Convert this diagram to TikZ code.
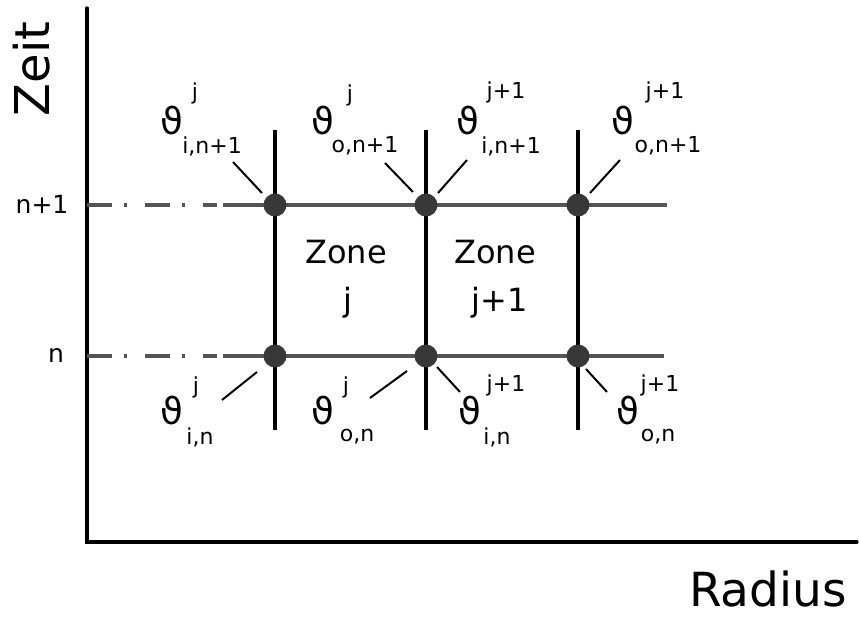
\documentclass[tikz,border=0pt]{standalone}
\usepackage{fontspec}
\setmainfont{DejaVu Sans}
\definecolor{rowline}{gray}{0.33}
\definecolor{nodefill}{gray}{0.22}
\begin{document}
\begin{tikzpicture}[x=1pt,y=-1pt,
  txt/.style={inner sep=0pt,outer sep=0pt},
  axislabel/.style={txt,font=\fontsize{48}{58}\selectfont},
  ticklabel/.style={txt,font=\fontsize{25}{30}\selectfont},
  zonelabel/.style={txt,font=\fontsize{32}{38}\selectfont},
  thetasym/.style={txt,font=\fontsize{37}{44}\selectfont},
  idx/.style={txt,font=\fontsize{22}{26}\selectfont},
  axisline/.style={line width=3.2pt,line cap=round},
  cellline/.style={line width=3.2pt},
  rowsolid/.style={line width=3.6pt,draw=rowline},
  rowdash/.style={line width=3.6pt,draw=rowline,dash pattern=on 25pt off 12pt on 3pt off 18pt},
  leader/.style={line width=2pt},
  gridpt/.style={circle,inner sep=0pt,minimum size=23pt,fill=nodefill}]

\useasboundingbox (0,0) rectangle (859,617);

% axes
\coordinate (origin) at (87,542);
\coordinate (ytop) at (87,8);
\coordinate (xend) at (857,542);
\draw[axisline] (ytop) -- (origin) -- (xend);
\node[axislabel,rotate=90] (zeit) at (32,69) {Zeit};
\node[axislabel,font=\fontsize{47}{56}\selectfont] (radius) at (768,589) {Radius};
\node[ticklabel] (tnp) at (42,204) {n+1};
\node[ticklabel] (tn) at (56,355) {n};

% time levels
\coordinate (rNa) at (87,205);  \coordinate (rNb) at (217,205);
\coordinate (rNc) at (223,205); \coordinate (rNd) at (667,205);
\coordinate (rna) at (87,356);  \coordinate (rnb) at (217,356);
\coordinate (rnc) at (223,356); \coordinate (rnd) at (664,356);
\draw[rowdash] (rNa) -- (rNb);
\draw[rowdash] (rna) -- (rnb);
\draw[rowsolid] (rNc) -- (rNd);
\draw[rowsolid] (rnc) -- (rnd);

% zone boundaries
\foreach \k/\x in {1/275,2/426,3/578}{
  \coordinate (v\k a) at (\x,130);
  \coordinate (v\k b) at (\x,430);
  \draw[cellline] (v\k a) -- (v\k b);
}

% grid points
\foreach \k/\x in {1/275,2/426,3/578}{
  \node[gridpt] (p\k u) at (\x,205) {};
  \node[gridpt] (p\k l) at (\x,356) {};
}

% zone names
\node[zonelabel] (z1) at (346,252) {Zone};
\node[zonelabel] (z1j) at (348,303) {j};
\node[zonelabel] (z2) at (495,252) {Zone};
\node[zonelabel] (z2j) at (500,303) {j+1};

% temperatures at level n+1
\node[thetasym] (a1) at (172,121) {ϑ};
\node[idx] (a1s) at (195,93) {j};
\node[idx] (a1b) at (212,146) {i,n+1};
\node[thetasym] (a2) at (323,121) {ϑ};
\node[idx] (a2s) at (350,95) {j};
\node[idx] (a2b) at (365,146) {o,n+1};
\node[thetasym] (a3) at (468,121) {ϑ};
\node[idx] (a3s) at (506,92) {j+1};
\node[idx] (a3b) at (511,146) {i,n+1};
\node[thetasym] (a4) at (623,121) {ϑ};
\node[idx] (a4s) at (665,92) {j+1};
\node[idx] (a4b) at (668,146) {o,n+1};

% temperatures at level n
\node[thetasym] (b1) at (172,411) {ϑ};
\node[idx] (b1s) at (196,387) {j};
\node[idx] (b1b) at (200,437) {i,n};
\node[thetasym] (b2) at (323,411) {ϑ};
\node[idx] (b2s) at (346,387) {j};
\node[idx] (b2b) at (357,437) {o,n};
\node[thetasym] (b3) at (470,411) {ϑ};
\node[idx] (b3s) at (506,385) {j+1};
\node[idx] (b3b) at (497,437) {i,n};
\node[thetasym] (b4) at (628,411) {ϑ};
\node[idx] (b4s) at (660,385) {j+1};
\node[idx] (b4b) at (658,437) {o,n};

% leader lines to the grid points
\coordinate (la1) at (233,162); \coordinate (la1e) at (262,193);
\coordinate (la2) at (385,163); \coordinate (la2e) at (413,192);
\coordinate (la3) at (467,160); \coordinate (la3e) at (438,193);
\coordinate (la4) at (620,160); \coordinate (la4e) at (590,193);
\coordinate (lb1) at (222,400); \coordinate (lb1e) at (257,372);
\coordinate (lb2) at (370,398); \coordinate (lb2e) at (407,371);
\coordinate (lb3) at (460,392); \coordinate (lb3e) at (437,367);
\coordinate (lb4) at (607,392); \coordinate (lb4e) at (586,369);
\foreach \l in {la1,la2,la3,la4,lb1,lb2,lb3,lb4}{
  \draw[leader] (\l) -- (\l e);
}
\end{tikzpicture}
\end{document}
